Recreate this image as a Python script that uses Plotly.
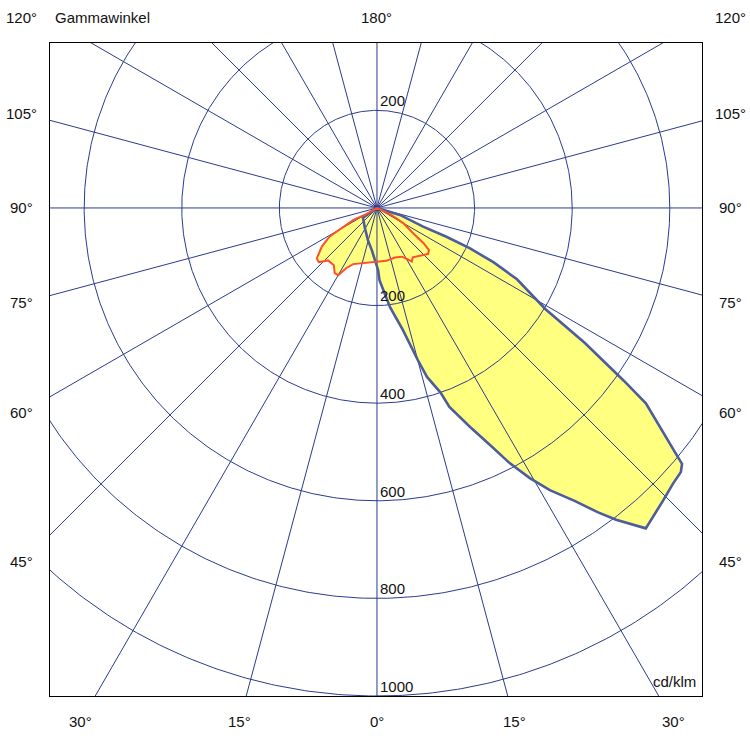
import numpy as np
import plotly.graph_objects as go

# ---------------- data ----------------
# C0-C180 plane (yellow fill, blue outline): gamma in degrees, intensity in cd/klm
blue_gamma = [-60, -55, -31, -16, -7, -2, 1, 2, 7.5, 12, 15, 16.5, 19, 20, 23, 25.5, 27.5,
              29.5, 31.5, 34, 36, 37.5, 40, 44.5, 47, 49, 50, 50.5, 52, 54, 55, 57, 59,
              63, 65, 66.5, 67.5, 68, 73, 80]
blue_I = [0, 35, 48, 68, 87, 107, 127, 148, 205, 256, 322, 361, 400, 434, 487, 538, 590,
          636, 678, 724, 771, 805, 857, 838, 829, 825, 816, 796, 740, 681, 618, 508, 403,
          322, 264, 208, 154, 102, 49, 0]

# C90-C270 plane (yellow fill, red outline)
red_gamma = [-65, -60, -63, -61, -59, -55, -50, -47, -43, -37, -33, -30, -27, -23, -12, -2,
             10, 20, 27, 31, 33, 36, 42, 48, 51, 53, 55, 60, 64, 67, 70]
red_I = [0, 28, 54, 79, 113, 138, 161, 163, 147, 147, 159, 159, 138, 125, 115, 112,
         110, 108, 112, 123, 131, 125, 131, 141, 137, 119, 91, 62, 33, 10, 0]

ring_values = [200, 400, 600, 800, 1000]
spoke_step = 15
side_angles = [120, 105, 90, 75, 60, 45]
bottom_angles = [30, 15, 0]

# ---------------- geometry helpers ----------------
def to_xy(g, I):
    g = np.radians(np.asarray(g, dtype=float))
    I = np.asarray(I, dtype=float)
    return I * np.sin(g), -I * np.cos(g)

X_RANGE = [-670, 666]
Y_RANGE = [-1000, 338]
GRID = "#2b3b8e"
FONT = "Liberation Sans, Arial, sans-serif"

def px(xu):
    return (xu - X_RANGE[0]) / (X_RANGE[1] - X_RANGE[0])

def py(yu):
    return (yu - Y_RANGE[0]) / (Y_RANGE[1] - Y_RANGE[0])

fig = go.Figure()

# fills
for g, I in ((blue_gamma, blue_I), (red_gamma, red_I)):
    x, y = to_xy(g, I)
    fig.add_trace(go.Scatter(x=x, y=y, mode="lines", fill="toself", fillcolor="#ffff80",
                             line=dict(width=0), hoverinfo="skip", showlegend=False))

# rings
t = np.linspace(0, 2 * np.pi, 721)
for R in ring_values:
    fig.add_trace(go.Scatter(x=R * np.cos(t), y=R * np.sin(t), mode="lines",
                             line=dict(color=GRID, width=1), hoverinfo="skip", showlegend=False))

# spokes
for a in range(0, 360, spoke_step):
    ar = np.radians(a)
    fig.add_trace(go.Scatter(x=[0, 3000 * np.sin(ar)], y=[0, -3000 * np.cos(ar)], mode="lines",
                             line=dict(color=GRID, width=1), hoverinfo="skip", showlegend=False))

# outlines
bx, by = to_xy(blue_gamma, blue_I)
fig.add_trace(go.Scatter(x=bx, y=by, mode="lines", line=dict(color="#4c5c9c", width=2.6),
                         hoverinfo="skip", showlegend=False))
rx, ry = to_xy(red_gamma, red_I)
fig.add_trace(go.Scatter(x=rx, y=ry, mode="lines", line=dict(color="#ff4f2a", width=2),
                         hoverinfo="skip", showlegend=False))

# ---------------- annotations (paper coords so they show outside the frame) ----------------
ann = []
def txt(x, y, s, xa="center", ya="middle"):
    ann.append(dict(x=px(x), y=py(y), xref="paper", yref="paper", text=s, showarrow=False,
                    xanchor=xa, yanchor=ya, font=dict(family=FONT, size=15, color="#111111")))

LBL_X = 725
LBL_TOP = 391
LBL_BOT = -1053
for a in side_angles:
    y = -LBL_X / np.tan(np.radians(a)) if a != 90 else 0.0
    y = min(y, LBL_TOP)
    txt(-LBL_X - 4, y, f"{a}°")
    txt(LBL_X, y, f"{a}°")
for a in bottom_angles:
    x = -LBL_BOT * np.tan(np.radians(a))
    txt(x, LBL_BOT, f"{a}°")
    if a != 0:
        txt(-x, LBL_BOT, f"{a}°")
txt(0, LBL_TOP, "180°")
txt(-664, LBL_TOP, "Gammawinkel", xa="left")
txt(658, -971, "cd/klm", xa="right")

# ring labels
for R in ring_values:
    txt(2, -R + 20, str(R), xa="left")
txt(2, ring_values[0] + 20, str(ring_values[0]), xa="left")

fig.update_layout(
    width=750, height=740,
    margin=dict(l=50, r=48, t=43, b=44),
    paper_bgcolor="white", plot_bgcolor="white",
    annotations=ann,
    xaxis=dict(range=X_RANGE, showgrid=False, zeroline=False, showticklabels=False,
               ticks="", showline=True, linecolor="black", linewidth=1, mirror=True),
    yaxis=dict(range=Y_RANGE, showgrid=False, zeroline=False, showticklabels=False,
               ticks="", showline=True, linecolor="black", linewidth=1, mirror=True),
)

fig.write_html("out.html")
